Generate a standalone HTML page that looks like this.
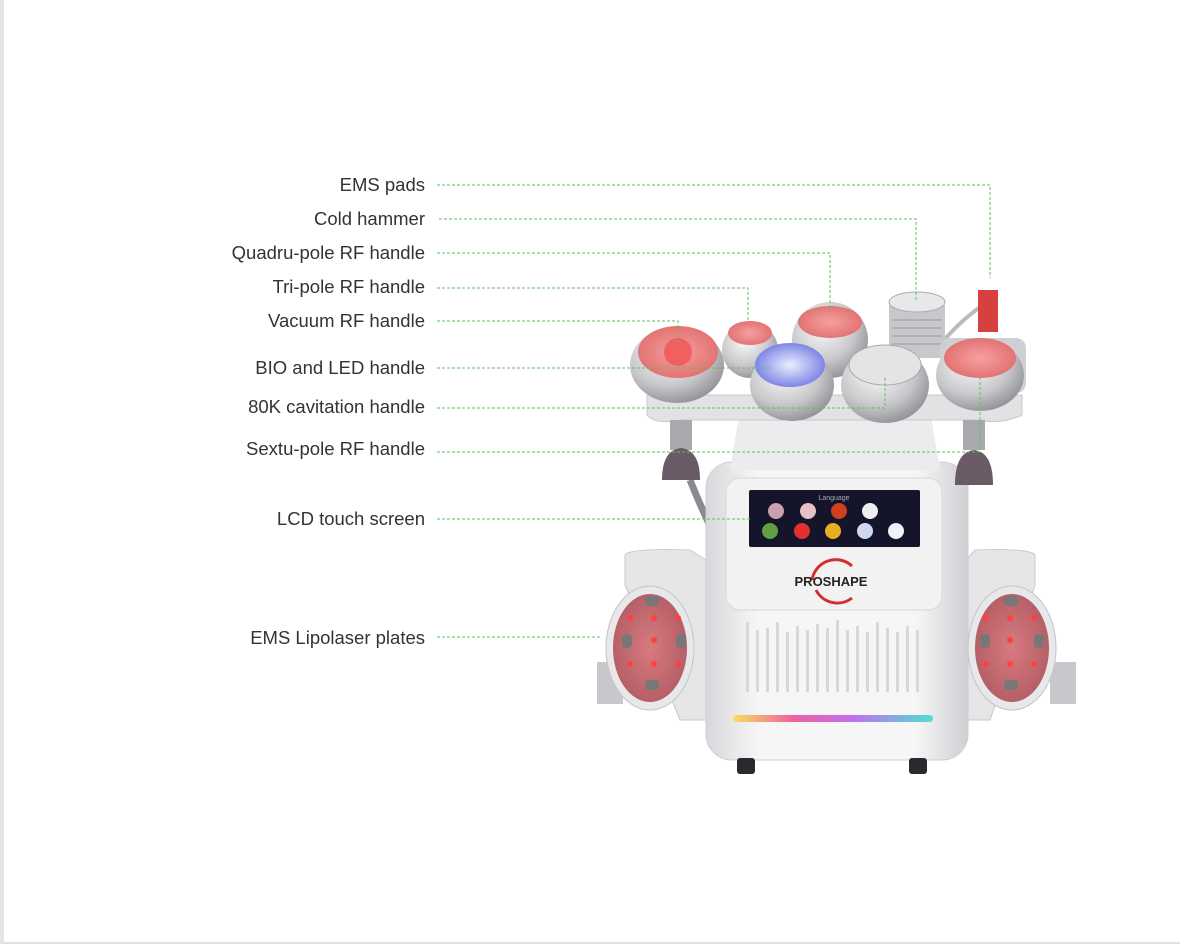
<!DOCTYPE html>
<html><head><meta charset="utf-8"><style>
html,body{margin:0;padding:0;background:#fff;}
body{width:1180px;height:944px;overflow:hidden;position:relative;}
.l{position:absolute;left:0;top:0;width:4px;height:944px;background:#e4e5e8;}
.b{position:absolute;left:0;top:942px;width:1180px;height:2px;background:#e0e0e0;}
svg{position:absolute;left:0;top:0;}
text{font-family:"Liberation Sans",sans-serif;font-size:18.5px;fill:#333;}
</style></head><body>
<div class="l"></div><div class="b"></div>
<svg width="1180" height="944" viewBox="0 0 1180 944">
<defs>
<radialGradient id="met" cx="40%" cy="35%" r="70%"><stop offset="0" stop-color="#fafafa"/><stop offset=".6" stop-color="#c9c9cc"/><stop offset="1" stop-color="#8e8e93"/></radialGradient>
<radialGradient id="red" cx="50%" cy="50%" r="60%"><stop offset="0" stop-color="#f5a0a0"/><stop offset="1" stop-color="#e06a6a"/></radialGradient>
<radialGradient id="plate" cx="50%" cy="50%" r="60%"><stop offset="0" stop-color="#d87a80"/><stop offset="1" stop-color="#b05a62"/></radialGradient>
<radialGradient id="blue" cx="50%" cy="50%" r="60%"><stop offset="0" stop-color="#e8f0ff"/><stop offset="1" stop-color="#6a70e0"/></radialGradient>
<linearGradient id="body" x1="0" x2="1"><stop offset="0" stop-color="#d8d8dc"/><stop offset=".2" stop-color="#f6f6f7"/><stop offset=".8" stop-color="#f6f6f7"/><stop offset="1" stop-color="#d0d0d4"/></linearGradient>
<linearGradient id="led" x1="0" x2="1"><stop offset="0" stop-color="#f8e060"/><stop offset=".3" stop-color="#f060a0"/><stop offset=".6" stop-color="#c070f0"/><stop offset="1" stop-color="#50e0d0"/></linearGradient>
</defs>
<path d="M690 480 Q700 505 712 530" stroke="#8a8a90" stroke-width="7" fill="none"/>
<path d="M965 485 Q955 520 950 560" stroke="#aaa" stroke-width="4" fill="none"/>
<path d="M990 300 Q960 320 940 345" stroke="#bbb" stroke-width="4" fill="none"/>
<path d="M625 585 L625 555 Q630 548 690 550 L706 560 L706 720 L680 720 Z" fill="#e6e6e8" stroke="#c8c8cc"/>
<path d="M1035 585 L1035 555 Q1030 548 975 550 L966 560 L966 720 L990 720 Z" fill="#e6e6e8" stroke="#c8c8cc"/>
<rect x="597" y="662" width="26" height="42" fill="#c8c8cc"/>
<rect x="1050" y="662" width="26" height="42" fill="#c8c8cc"/>
<rect x="706" y="462" width="262" height="298" rx="26" fill="url(#body)" stroke="#cfcfd3"/>
<rect x="726" y="478" width="216" height="132" rx="14" fill="#f2f2f3" stroke="#d8d8dc"/>
<rect x="749" y="490" width="171" height="57" rx="2" fill="#14142a"/>
<text x="834" y="500" text-anchor="middle" style="font-size:7px;fill:#aab">Language</text>
<g>
<circle cx="776" cy="511" r="8" fill="#c8a0b0"/><circle cx="808" cy="511" r="8" fill="#e8c0c8"/><circle cx="839" cy="511" r="8" fill="#d04020"/><circle cx="870" cy="511" r="8" fill="#eee"/>
<circle cx="770" cy="531" r="8" fill="#60a040"/><circle cx="802" cy="531" r="8" fill="#e03030"/><circle cx="833" cy="531" r="8" fill="#e8b020"/><circle cx="865" cy="531" r="8" fill="#d0d8f0"/><circle cx="896" cy="531" r="8" fill="#f0f0f8"/>
</g>
<path d="M812 580 A24 24 0 0 1 852 566" stroke="#d03030" stroke-width="3" fill="none"/>
<path d="M816 590 A24 24 0 0 0 852 598" stroke="#d03030" stroke-width="3" fill="none"/>
<text x="831" y="586" text-anchor="middle" style="font-size:13px;font-weight:bold;fill:#222">PROSHAPE</text>
<g fill="#d8d8dc">
<rect x="746" y="622" width="3" height="70"/><rect x="756" y="630" width="3" height="62"/><rect x="766" y="628" width="3" height="64"/><rect x="776" y="622" width="3" height="70"/><rect x="786" y="632" width="3" height="60"/><rect x="796" y="626" width="3" height="66"/><rect x="806" y="630" width="3" height="62"/><rect x="816" y="624" width="3" height="68"/><rect x="826" y="628" width="3" height="64"/><rect x="836" y="620" width="3" height="72"/><rect x="846" y="630" width="3" height="62"/><rect x="856" y="626" width="3" height="66"/><rect x="866" y="632" width="3" height="60"/><rect x="876" y="622" width="3" height="70"/><rect x="886" y="628" width="3" height="64"/><rect x="896" y="632" width="3" height="60"/><rect x="906" y="626" width="3" height="66"/><rect x="916" y="630" width="3" height="62"/>
</g>
<rect x="733" y="715" width="200" height="7" rx="3.5" fill="url(#led)"/>
<rect x="737" y="758" width="18" height="16" rx="3" fill="#2a2a2e"/><rect x="909" y="758" width="18" height="16" rx="3" fill="#2a2a2e"/>
<path d="M740 410 L930 410 L940 470 L730 470 Z" fill="#ececee"/>
<path d="M647 395 L1022 395 L1022 415 Q1000 425 980 420 L680 420 Q655 425 647 415 Z" fill="#e2e2e5" stroke="#c8c8cc"/>
<rect x="670" y="420" width="22" height="30" fill="#a8a8ae"/><path d="M662 480 Q662 450 681 448 Q700 450 700 480 Z" fill="#6a5a66"/>
<rect x="963" y="420" width="22" height="30" fill="#a8a8ae"/><path d="M955 485 Q955 452 974 450 Q993 452 993 485 Z" fill="#6a5a66"/>
<rect x="889" y="300" width="56" height="58" rx="6" fill="#c8c8cc"/><g stroke="#999" stroke-width="1"><line x1="892" y1="320" x2="942" y2="320"/><line x1="892" y1="328" x2="942" y2="328"/><line x1="892" y1="336" x2="942" y2="336"/><line x1="892" y1="344" x2="942" y2="344"/></g>
<ellipse cx="917" cy="302" rx="28" ry="10" fill="#e8e8ea" stroke="#aaa"/>
<rect x="978" y="290" width="20" height="42" fill="#d84040"/>
<circle cx="750" cy="350" r="28" fill="url(#met)"/><ellipse cx="750" cy="333" rx="22" ry="12" fill="url(#red)"/>
<circle cx="830" cy="340" r="38" fill="url(#met)"/><ellipse cx="830" cy="322" rx="32" ry="16" fill="url(#red)"/>
<ellipse cx="677" cy="365" rx="47" ry="38" fill="url(#met)"/><ellipse cx="678" cy="352" rx="40" ry="26" fill="url(#red)"/><circle cx="678" cy="352" r="14" fill="#f06060"/>
<rect x="940" y="338" width="86" height="55" rx="10" fill="#cfcfd3"/>
<ellipse cx="980" cy="375" rx="44" ry="36" fill="url(#met)"/><ellipse cx="980" cy="358" rx="36" ry="20" fill="url(#red)"/>
<ellipse cx="792" cy="385" rx="42" ry="36" fill="url(#met)"/><ellipse cx="790" cy="365" rx="35" ry="22" fill="url(#blue)"/>
<ellipse cx="885" cy="385" rx="44" ry="38" fill="url(#met)"/><ellipse cx="885" cy="365" rx="36" ry="20" fill="#e4e4e6" stroke="#aaa"/>
<ellipse cx="650" cy="648" rx="44" ry="62" fill="#e8e8ea" stroke="#c4c4c8"/><ellipse cx="650" cy="648" rx="37" ry="54" fill="url(#plate)"/>
<ellipse cx="1012" cy="648" rx="44" ry="62" fill="#e8e8ea" stroke="#c4c4c8"/><ellipse cx="1012" cy="648" rx="37" ry="54" fill="url(#plate)"/>
<g fill="#ff4040">
<circle cx="630" cy="618" r="3"/><circle cx="654" cy="618" r="3"/><circle cx="678" cy="618" r="3"/><circle cx="654" cy="640" r="3"/><circle cx="630" cy="664" r="3"/><circle cx="654" cy="664" r="3"/><circle cx="678" cy="664" r="3"/>
<circle cx="986" cy="618" r="3"/><circle cx="1010" cy="618" r="3"/><circle cx="1034" cy="618" r="3"/><circle cx="1010" cy="640" r="3"/><circle cx="986" cy="664" r="3"/><circle cx="1010" cy="664" r="3"/><circle cx="1034" cy="664" r="3"/>
</g>
<g fill="#777"><rect x="645" y="596" width="14" height="10" rx="4"/><rect x="645" y="680" width="14" height="10" rx="4"/><rect x="622" y="634" width="10" height="14" rx="4"/><rect x="676" y="634" width="10" height="14" rx="4"/>
<rect x="1004" y="596" width="14" height="10" rx="4"/><rect x="1004" y="680" width="14" height="10" rx="4"/><rect x="980" y="634" width="10" height="14" rx="4"/><rect x="1034" y="634" width="10" height="14" rx="4"/></g>
<g stroke="#5cc25c" stroke-width="1" stroke-dasharray="3,2" fill="none">
<path d="M437 185 H990 V278"/>
<path d="M439 219 H916 V300"/>
<path d="M437 253 H830 V312"/>
<path d="M437 288 H748 V322"/>
<path d="M437 321 H678 V345"/>
<path d="M437 368 H770"/>
<path d="M437 408 H885 V378"/>
<path d="M437 452 H980 V378"/>
<path d="M437 519 H750"/>
<path d="M437 637 H600"/>
</g>
<g text-anchor="end">
<text x="425" y="191">EMS pads</text>
<text x="425" y="225">Cold hammer</text>
<text x="425" y="259">Quadru-pole RF handle</text>
<text x="425" y="293">Tri-pole RF handle</text>
<text x="425" y="327">Vacuum RF handle</text>
<text x="425" y="374">BIO and LED handle</text>
<text x="425" y="413">80K cavitation handle</text>
<text x="425" y="455">Sextu-pole RF handle</text>
<text x="425" y="525">LCD touch screen</text>
<text x="425" y="644">EMS Lipolaser plates</text>
</g>
</svg>
</body></html>
